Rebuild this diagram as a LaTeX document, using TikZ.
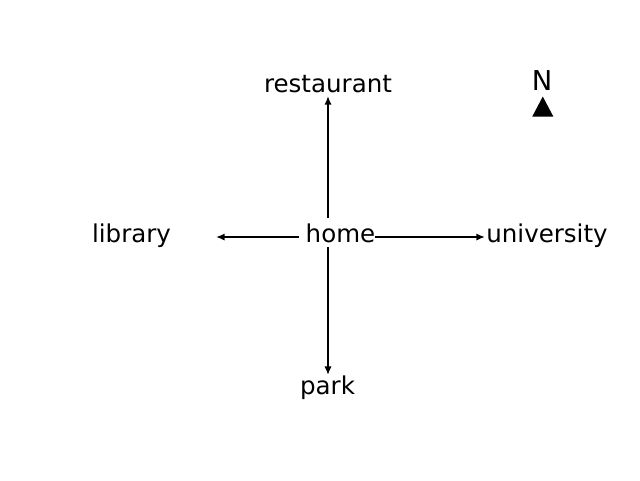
\documentclass[tikz,border=0pt]{standalone}
\usepackage{fontspec}
\setmainfont{DejaVu Sans}
\usetikzlibrary{arrows.meta}
\begin{document}
\begin{tikzpicture}[x=0.75pt,y=-0.75pt,
  lbl/.style={anchor=base,inner sep=0pt,font=\fontsize{18.4}{22}\selectfont},
  conn/.style={line width=1.8pt,-{Latex[length=6.5pt,width=5.5pt]}}]
\useasboundingbox (0,0) rectangle (640,480);
\node[lbl] (restaurant) at (328,92) {restaurant};
\node[lbl] (home) at (340.5,242) {home};
\node[lbl] (library) at (131.5,242) {library};
\node[lbl] (university) at (547,242) {university};
\node[lbl] (park) at (327.5,394) {park};
\node[lbl,font=\fontsize{20.5}{24}\selectfont] (north) at (542,90.5) {N};
\fill (532.3,116.5) -- (542.8,96.5) -- (553.3,116.5) -- cycle;
\coordinate (sU) at (328,218);
\coordinate (eU) at (328,96);
\coordinate (sL) at (299,237);
\coordinate (eL) at (216,237);
\coordinate (sR) at (375,237);
\coordinate (eR) at (485,237);
\coordinate (sD) at (328,247);
\coordinate (eD) at (328,375);
\draw[conn] (sU) -- (eU);
\draw[conn] (sL) -- (eL);
\draw[conn] (sR) -- (eR);
\draw[conn] (sD) -- (eD);
\end{tikzpicture}
\end{document}
